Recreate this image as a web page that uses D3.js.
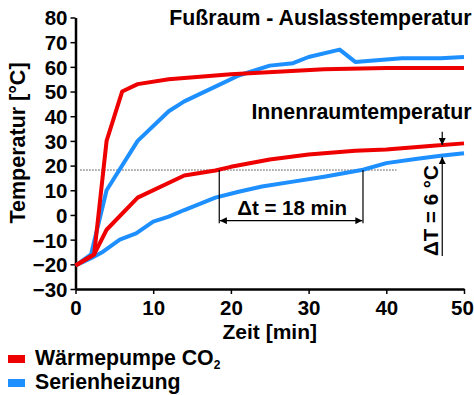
<!DOCTYPE html>
<html><head><meta charset="utf-8">
<script src="https://cdn.jsdelivr.net/npm/d3@7"></script>
<style>
body{margin:0;background:#fff;}
svg{display:block;font-family:"Liberation Sans",Arial,sans-serif;font-weight:bold;}
</style></head>
<body>
<svg id="c" width="474" height="395"></svg>
<script>
// ---- data ----
const yTicks = [-30,-20,-10,0,10,20,30,40,50,60,70,80];
const xTicks = [0,10,20,30,40,50];

const wpFussTime  = [0, 2.4, 4, 6, 8, 12, 16, 20, 26, 32, 40, 50];
const wpFussTemp  = [-20.5, -16, 30, 50, 53, 55, 56, 57, 58, 59, 59.5, 59.5];

const serFussTime = [0, 2, 4, 8, 12, 14, 18, 21, 25, 28, 30, 34, 36, 42, 47, 50];
const serFussTemp = [-20.5, -16, 10, 30, 42, 46, 52, 56.5, 60.5, 61.5, 64, 67, 62, 63.5, 63.5, 64];

const wpInnenTime = [0, 2.4, 4, 8, 14, 18, 20, 25, 30, 36, 40, 46, 50];
const wpInnenTemp = [-20.5, -16, -6, 7, 16, 18, 19.5, 22.5, 24.5, 26, 26.5, 28, 29];

const serInnenTime = [0, 2, 3.5, 5.7, 7.8, 10, 12, 14, 16, 18, 21, 24, 28, 32, 37, 40, 44, 47, 50];
const serInnenTemp = [-20.5, -17.5, -15, -10, -7.5, -2.7, -0.7, 2, 4.5, 7, 9.4, 11.5, 13.5, 15.5, 18.3, 21, 22.8, 24, 25];

const seriesNames = ["Wärmepumpe CO", "Serienheizung"];
const refLevel = 18.2;       // dotted reference temperature
const dtStart = 18.5, dtEnd = 37;   // Δt markers (min)
const dTTime = 47.2, dTTop = 28.3, dTBottom = 23.5; // ΔT marker

// ---- drawing ----
const RED = "#ee0000", BLUE = "#1e8fff";
const svg = d3.select("#c");
const x = d3.scaleLinear().domain([0,50]).range([75.5,464]);
const y = d3.scaleLinear().domain([-30,80]).range([289,17.5]);

const defs = svg.append("defs");
defs.append("marker").attr("id","arr").attr("viewBox","0 0 10 10")
  .attr("refX",10).attr("refY",5).attr("markerWidth",7).attr("markerHeight",7)
  .attr("orient","auto-start-reverse").attr("markerUnits","userSpaceOnUse")
  .append("path").attr("d","M0,0 L10,5 L0,10 z").attr("fill","#000");

// y axis
const ya = svg.append("g").attr("transform",`translate(${x(0)},0)`)
  .call(d3.axisLeft(y).tickValues(yTicks).tickSize(5).tickSizeOuter(0).tickPadding(3));
// x axis
const xa = svg.append("g").attr("transform",`translate(0,${y(-30)})`)
  .call(d3.axisBottom(x).tickValues(xTicks).tickSize(5).tickSizeOuter(0).tickPadding(6));
[ya,xa].forEach(g=>{
  g.select(".domain").attr("stroke","#000").attr("stroke-width",2.5);
  g.selectAll(".tick line").attr("stroke","#000").attr("stroke-width",1.5);
  g.selectAll(".tick text").attr("fill","#000").style("font-size","20.5px").style("font-weight","bold")
    .style("font-family","'Liberation Sans',Arial,sans-serif");
});
ya.selectAll(".tick text").attr("dy","0.36em");
xa.selectAll(".tick text").filter(d=>d===50).attr("dx",-2);

// axis titles
svg.append("text").attr("transform",`translate(25,${143}) rotate(-90)`)
  .attr("text-anchor","middle").style("font-size","21.5px").text("Temperatur [°C]");
svg.append("text").attr("x",x(25)).attr("y",339).attr("text-anchor","middle")
  .style("font-size","21px").text("Zeit [min]");

// dotted reference line
svg.append("line").attr("x1",x(0.6)).attr("x2",x(41.3)).attr("y1",y(refLevel)).attr("y2",y(refLevel))
  .attr("stroke","#444").attr("stroke-width",1).attr("stroke-dasharray","1.5,1.5");

// series lines
const line = d3.line().x(d=>x(d[0])).y(d=>y(d[1]));
function draw(ts, vs, col){
  svg.append("path").datum(d3.zip(ts,vs)).attr("d",line)
    .attr("fill","none").attr("stroke",col).attr("stroke-width",4).attr("stroke-linejoin","round");
}
draw(serFussTime, serFussTemp, BLUE);
draw(serInnenTime, serInnenTemp, BLUE);
draw(wpFussTime, wpFussTemp, RED);
draw(wpInnenTime, wpInnenTemp, RED);

// Δt annotation
[dtStart, dtEnd].forEach(t=>{
  svg.append("line").attr("x1",x(t)).attr("x2",x(t)).attr("y1",y(refLevel)).attr("y2",y(-3.4))
    .attr("stroke","#000").attr("stroke-width",1.2);
});
svg.append("line").attr("x1",x(dtStart)+0.6).attr("x2",x(dtEnd)-0.6).attr("y1",y(-2.3)).attr("y2",y(-2.3))
  .attr("stroke","#000").attr("stroke-width",1.2)
  .attr("marker-start","url(#arr)").attr("marker-end","url(#arr)");
svg.append("text").attr("x",(x(dtStart)+x(dtEnd))/2 + 1).attr("y",y(0)).attr("text-anchor","middle")
  .style("font-size","20.5px").text("\u0394t = 18 min");

// ΔT annotation
svg.append("line").attr("x1",x(dTTime)).attr("x2",x(dTTime)).attr("y1",y(33.7)).attr("y2",y(dTTop))
  .attr("stroke","#000").attr("stroke-width",1.2).attr("marker-end","url(#arr)");
svg.append("line").attr("x1",x(dTTime)).attr("x2",x(dTTime)).attr("y1",y(-16.6)).attr("y2",y(dTBottom))
  .attr("stroke","#000").attr("stroke-width",1.2).attr("marker-end","url(#arr)");
svg.append("text").attr("transform",`translate(${x(dTTime)-4},${y(-16.6)}) rotate(-90)`)
  .attr("text-anchor","start").style("font-size","20.5px").text("\u0394T = 6 °C");

// titles
svg.append("text").attr("x",471.5).attr("y",25).attr("text-anchor","end")
  .style("font-size","21.3px").text("Fußraum - Auslasstemperatur");
svg.append("text").attr("x",471.5).attr("y",119).attr("text-anchor","end")
  .style("font-size","21.3px").text("Innenraumtemperatur");

// legend
const lg = svg.append("g");
[[RED,355,365],[BLUE,379,389]].forEach((d,i)=>{
  lg.append("rect").attr("x",8).attr("y",d[1]).attr("width",17).attr("height",8).attr("fill",d[0]);
  const t = lg.append("text").attr("x",35).attr("y",d[2]).style("font-size","21.3px").text(seriesNames[i]);
  if(i===0) t.append("tspan").attr("dy",4).style("font-size","12px").text("2");
});
</script>
</body></html>
